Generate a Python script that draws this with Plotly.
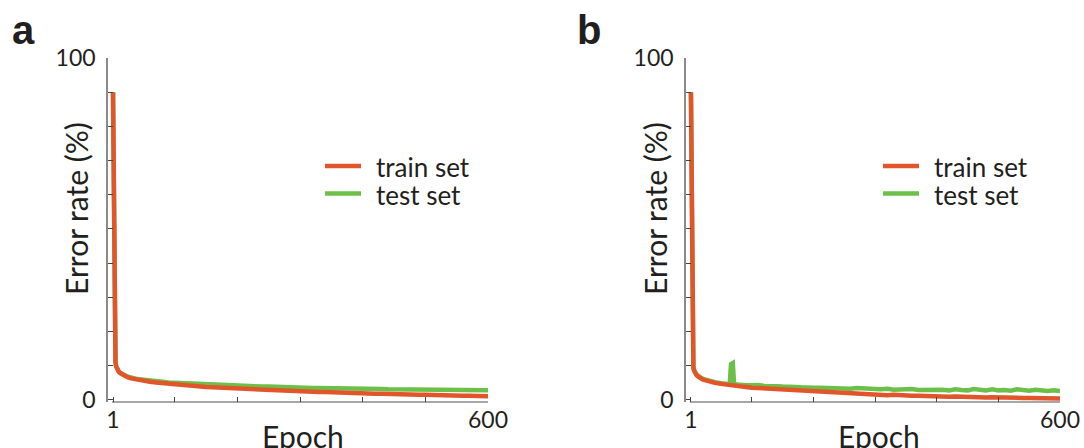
import plotly.graph_objects as go

W, H = 1084, 448

# ---------------- data ----------------
epochs_a = [1, 2, 3, 4, 5, 6, 8, 10, 13, 16, 20, 25, 30, 40, 50, 60, 70, 80, 90, 100,
            110, 120, 130, 140, 150, 160, 170, 180, 190, 200,
            210, 220, 230, 240, 250, 260, 270, 280, 290, 300,
            310, 320, 330, 340, 350, 360, 370, 380, 390, 400,
            410, 420, 430, 440, 450, 460, 470, 480, 490, 500,
            510, 520, 530, 540, 550, 560, 570, 580, 590, 600]
train_a = [90, 62, 28, 14, 11, 9.8, 8.9, 8.3, 7.8, 7.4, 7.0, 6.6, 6.3, 5.9, 5.6, 5.3, 5.1, 4.9, 4.7, 4.5,
           4.3, 4.2, 4.0, 4.0, 3.8, 3.7, 3.6, 3.5, 3.5, 3.4,
           3.3, 3.2, 3.1, 3.0, 2.9, 2.9, 2.8, 2.7, 2.6, 2.5,
           2.5, 2.4, 2.3, 2.3, 2.2, 2.2, 2.1, 2.0, 2.0, 1.9,
           1.9, 1.8, 1.8, 1.7, 1.7, 1.6, 1.6, 1.5, 1.5, 1.5,
           1.4, 1.4, 1.4, 1.3, 1.3, 1.2, 1.2, 1.2, 1.1, 1.1]
test_a = [90, 62, 28, 14, 11, 9.9, 9.0, 8.4, 7.9, 7.5, 7.2, 6.8, 6.5, 6.1, 5.9, 5.6, 5.4, 5.3, 5.1, 5.0,
          4.9, 4.8, 4.7, 4.6, 4.5, 4.4, 4.4, 4.3, 4.2, 4.2,
          4.1, 4.0, 4.0, 3.9, 3.9, 3.8, 3.8, 3.7, 3.7, 3.6,
          3.6, 3.5, 3.5, 3.5, 3.4, 3.4, 3.4, 3.3, 3.3, 3.3,
          3.2, 3.2, 3.2, 3.1, 3.1, 3.1, 3.1, 3.0, 3.0, 3.0,
          3.0, 2.9, 2.9, 2.9, 2.9, 2.9, 2.8, 2.8, 2.8, 2.8]

epochs_b = [1, 2, 3, 4, 5, 6, 8, 10, 13, 16, 20, 25, 30, 40, 50, 60, 64, 66, 69, 71, 80, 90, 100,
            110, 120, 130, 140, 150, 160, 170, 180, 190, 200,
            210, 220, 230, 240, 250, 260, 270, 280, 290, 300,
            310, 320, 330, 340, 350, 360, 370, 380, 390, 400,
            410, 420, 430, 440, 450, 460, 470, 480, 490, 500,
            510, 520, 530, 540, 550, 560, 570, 580, 590, 600]
train_b = [90, 55, 22, 12, 9.5, 8.6, 7.8, 7.3, 6.8, 6.4, 6.0, 5.7, 5.4, 5.0, 4.7, 4.4, 4.3, 4.3, 4.2, 4.2, 4.0, 3.8, 3.6,
           3.5, 3.4, 3.3, 3.2, 3.1, 3.0, 2.9, 2.8, 2.6, 2.4,
           2.4, 2.3, 2.3, 2.1, 2.1, 2.0, 1.9, 1.8, 1.7, 1.5,
           1.6, 1.4, 1.5, 1.3, 1.4, 1.2, 1.2, 1.1, 1.2, 1.0,
           1.1, 0.9, 1.0, 0.9, 0.8, 0.9, 0.8, 0.7, 0.8, 0.7,
           0.7, 0.6, 0.7, 0.6, 0.6, 0.5, 0.6, 0.5, 0.5, 0.4]
test_b = [90, 55, 22, 12, 9.6, 8.8, 8.0, 7.5, 7.0, 6.6, 6.2, 5.9, 5.6, 5.2, 4.9, 4.7, 4.6, 10.5, 10.8, 4.6, 4.4, 4.3, 4.3,
          4.4, 4.1, 4.2, 4.0, 3.9, 4.0, 3.8, 3.7, 3.8, 3.6,
          3.6, 3.5, 3.7, 3.4, 3.4, 3.3, 3.5, 3.3, 3.2, 3.2,
          3.1, 3.3, 3.0, 3.1, 3.0, 3.2, 2.9, 3.0, 3.1, 2.9,
          3.0, 2.8, 3.1, 2.9, 2.8, 3.2, 2.9, 2.8, 3.1, 2.8,
          2.9, 2.7, 3.1, 2.8, 2.7, 3.0, 2.7, 2.6, 2.8, 2.6]

x_tick_vals = [1, 100, 200, 300, 400, 500, 600]
x_tick_text = ["1", "", "", "", "", "", "600"]
y_tick_vals = [0, 10, 20, 30, 40, 50, 60, 70, 80, 90, 100]
y_tick_text = ["0", "", "", "", "", "", "", "", "", "", "100"]
legend_labels = ["train set", "test set"]
panel_labels = ["a", "b"]

# ---------------- style ----------------
ORANGE = "#E2552A"
GREEN = "#6CC04A"
TXT = "#231F20"
AXIS = "#8a8a8a"
FONT = "Lato"
LW = 4.5

def px(xp):
    return xp / W

def py(yp):
    return 1 - yp / H

fig = go.Figure()

panels = [
    dict(xa="x", ya="y", ep=epochs_a, tr=train_a, te=test_a),
    dict(xa="x2", ya="y2", ep=epochs_b, tr=train_b, te=test_b),
]
for p in panels:
    fig.add_trace(go.Scatter(x=p["ep"], y=p["te"], mode="lines", name=legend_labels[1],
                             line=dict(color=GREEN, width=LW), xaxis=p["xa"], yaxis=p["ya"],
                             showlegend=False))
    fig.add_trace(go.Scatter(x=p["ep"], y=p["tr"], mode="lines", name=legend_labels[0],
                             line=dict(color=ORANGE, width=LW), xaxis=p["xa"], yaxis=p["ya"],
                             showlegend=False))

y_dom = [py(402), py(58)]
geo = [
    dict(left=108, right=488, ylab_x=76, epoch_x=303, label_x=10, leg_x0=325),
    dict(left=686, right=1060, ylab_x=655, epoch_x=879, label_x=575, leg_x0=883),
]

xcommon = dict(range=[-7, 600], tickvals=x_tick_vals, ticktext=x_tick_text,
               ticks="inside", ticklen=5, tickwidth=1.2, tickcolor="#444",
               showline=False, showgrid=False, zeroline=False, automargin=False,
               tickfont=dict(family=FONT, size=23, color=TXT), ticklabelstandoff=2)
ycommon = dict(range=[-0.6, 100], tickvals=y_tick_vals, ticktext=y_tick_text,
               ticks="inside", ticklen=5, tickwidth=1.2, tickcolor="#444",
               showline=True, linecolor=AXIS, linewidth=1.5, automargin=False,
               showgrid=False, zeroline=False, domain=y_dom,
               tickfont=dict(family=FONT, size=23, color=TXT), ticklabelstandoff=6)

fig.update_layout(
    template="none",
    xaxis=dict(domain=[px(geo[0]["left"]), px(geo[0]["right"])], anchor="y", **xcommon),
    yaxis=dict(anchor="x", **ycommon),
    xaxis2=dict(domain=[px(geo[1]["left"]), px(geo[1]["right"])], anchor="y2", **xcommon),
    yaxis2=dict(anchor="x2", **ycommon),
)

shapes = []
annotations = []
for i, g in enumerate(geo):
    xr = "x" if i == 0 else "x2"
    yr = "y" if i == 0 else "y2"
    # x axis baseline (starts slightly right of the y axis)
    shapes.append(dict(type="line", xref=xr, yref=yr + " domain", x0=-0.6, x1=600, y0=0, y1=0,
                       line=dict(color=AXIS, width=1.5), layer="below"))
    # legend
    for j, (lab, col) in enumerate(zip(legend_labels, [ORANGE, GREEN])):
        yy = 166 + 27.5 * j
        shapes.append(dict(type="line", xref="paper", yref="paper",
                           x0=px(g["leg_x0"]), x1=px(g["leg_x0"] + 36), y0=py(yy), y1=py(yy),
                           line=dict(color=col, width=LW)))
        annotations.append(dict(text=lab, xref="paper", yref="paper", x=px(g["leg_x0"] + 49),
                                y=py(yy + 1), xanchor="left", yanchor="middle", showarrow=False,
                                font=dict(family=FONT, size=26, color=TXT)))
    # axis titles
    annotations.append(dict(text="Error rate (%)", xref="paper", yref="paper", x=px(g["ylab_x"]),
                            y=py(209), xanchor="center", yanchor="middle", textangle=-90,
                            showarrow=False, font=dict(family=FONT, size=30, color=TXT)))
    annotations.append(dict(text="Epoch", xref="paper", yref="paper", x=px(g["epoch_x"]),
                            y=py(436), xanchor="center", yanchor="middle", showarrow=False,
                            font=dict(family=FONT, size=30, color=TXT)))
    # panel label
    annotations.append(dict(text="<b>%s</b>" % panel_labels[i], xref="paper", yref="paper",
                            x=px(g["label_x"]), y=py(30), xanchor="left", yanchor="middle",
                            showarrow=False,
                            font=dict(family="Liberation Sans", size=40, color=TXT)))

fig.update_layout(
    width=W, height=H, autosize=False,
    margin=dict(l=0, r=0, t=0, b=0),
    paper_bgcolor="white", plot_bgcolor="white",
    showlegend=False,
    shapes=shapes, annotations=annotations,
)

fig.write_html("out.html", config={"displayModeBar": False},
               post_script="document.body.style.margin='0';document.body.style.overflow='hidden';")
